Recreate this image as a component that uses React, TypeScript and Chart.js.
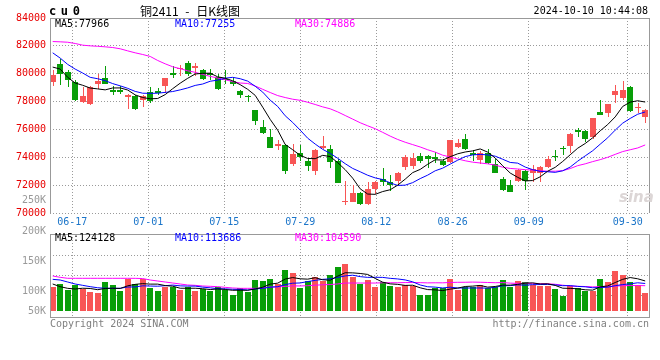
import React, { useEffect, useRef } from 'react';
import { Chart, registerables } from 'chart.js';

Chart.register(...registerables);

// ---------- data ----------
const dates = [
  '06-12','06-13','06-14','06-17','06-18','06-19','06-20','06-21','06-24','06-25','06-26','06-27','06-28',
  '07-01','07-02','07-03','07-04','07-05','07-08','07-09','07-10','07-11','07-12',
  '07-15','07-16','07-17','07-18','07-19','07-22','07-23','07-24','07-25','07-26',
  '07-29','07-30','07-31','08-01','08-02','08-05','08-06','08-07','08-08','08-09',
  '08-12','08-13','08-14','08-15','08-16','08-19','08-20','08-21','08-22','08-23',
  '08-26','08-27','08-28','08-29','08-30','09-02','09-03','09-04','09-05','09-06',
  '09-09','09-10','09-11','09-12','09-13','09-18','09-19','09-20',
  '09-23','09-24','09-25','09-26','09-27','09-30','10-08','10-09','10-10'
];

const open = [
  79380,80710,80100,79380,78000,77790,79240,79690,78810,78810,78330,78430,78100,78710,78790,79100,80020,80330,80740,80400,
  80290,80020,79740,79640,79450,78790,78430,77430,76140,75430,74810,74860,73500,74290,73710,73020,74640,74570,73740,70810,
  70810,71430,70640,71710,72430,72240,72310,73310,73380,74100,74100,74000,73760,73670,74760,75290,74290,73810,74290,73500,
  72430,72000,72310,73020,72860,72900,73330,74100,74690,74810,75950,75880,75450,77240,77190,78450,78260,79050,77520,76900
];
const high = [
  80290,81050,80240,79570,79050,79100,80000,80570,79140,79100,78570,78480,78480,79050,78980,79710,80570,80640,80880,80760,
  80330,80330,79980,80240,79760,78860,78480,77430,76670,76000,75210,74930,74930,74860,73980,74570,75520,74860,73900,72290,
  72000,71480,72240,72310,73260,72710,72950,74140,74290,74330,74140,74380,73860,75210,75290,75640,74520,74450,74570,73900,
  72550,72380,73140,73070,73430,73380,74100,74500,74810,75760,76120,75930,76790,78140,77860,79210,79500,79140,77900,77480
];
const low = [
  79100,79170,79020,78070,77900,77760,78930,79290,78450,78570,77500,77380,77600,77880,78500,78620,79670,79810,79810,79860,
  79570,79570,78860,79260,79100,78240,77950,76310,75640,74640,74520,72790,73380,73740,73020,72740,74570,73260,72140,70600,
  70760,70600,70600,71360,71950,71600,72070,73070,73140,73620,73260,73620,73380,73620,74640,74520,73740,73500,73500,72860,
  71550,71520,72190,71640,72240,72240,73260,73740,74170,74290,75480,75120,75290,77020,76900,77900,78140,77260,77190,76430
];
const close = [
  79930,79950,79520,78100,78430,79050,79450,79290,78670,78670,78500,77500,78380,78050,78620,79670,79900,80430,79980,80520,
  79600,79900,78930,79520,79260,78450,78360,76600,75710,74640,74980,73020,74210,74020,73380,74500,74810,73670,72140,70880,
  71430,70640,71710,72190,72190,72020,72860,74020,73980,73710,73900,73860,73430,75210,75050,74570,74140,74330,73570,72860,
  71640,71520,73070,72310,73140,73310,73860,74000,74570,75640,75830,75290,76790,77020,77790,78790,78860,77310,77620,77360
];

const ma5 = [
  80476,80333,79738,79333,79170,78970,78910,78840,78976,78980,78830,78480,78290,78200,78220,78500,78925,79320,79670,79980,
  80030,80040,79775,79680,79490,79214,78880,78445,77600,76720,75950,74920,74540,74140,73915,73900,74140,74050,73620,73110,
  72500,71735,71360,71340,71540,71670,72000,72430,72900,73130,73500,73820,73800,74040,74250,74380,74460,74600,74370,73950,
  73390,72870,72560,72300,72330,72600,73000,73280,73700,74180,74650,74990,75400,75900,76350,76900,77650,77960,78060,77966
];
const ma10 = [
  81500,81120,80670,80330,80050,79740,79640,79500,79290,79130,78950,78730,78600,78590,78600,78660,78720,78840,78980,79160,
  79260,79460,79540,79680,79740,79640,79470,79100,78680,78100,77650,76980,76500,75950,75370,74950,74570,74280,73930,73540,
  73200,72960,72710,72520,72400,72160,71980,72000,72180,72470,72720,73030,73220,73510,73790,74050,74170,74210,74170,74080,
  73860,73630,73580,73300,73110,72990,72960,72920,73030,73300,73720,74100,74470,74940,75400,75950,76450,76790,77090,77255
];
const ma30 = [
  82310,82290,82260,82170,82050,82000,81970,81930,81880,81790,81640,81500,81380,81240,80950,80710,80500,80360,80210,80100,
  79950,79810,79690,79570,79430,79330,79300,79120,78880,78650,78430,78290,78170,78090,77950,77790,77620,77480,77260,77000,
  76740,76480,76260,76050,75790,75520,75280,75080,74910,74740,74540,74370,74150,74020,73880,73750,73650,73590,73530,73440,
  73290,73200,73160,73110,73080,73040,73000,73000,73040,73190,73400,73530,73690,73830,74000,74210,74410,74540,74670,74886
];

const volume = [
  99120,111510,88100,107380,90860,79840,74340,119770,107380,83970,133530,111510,133530,96360,83970,100490,100490,86730,97760,83970,
  90860,82600,100490,86730,66080,93620,79840,128030,123900,132160,110150,169330,158310,96360,123900,141790,123900,148680,181720,195480,
  139060,110150,128030,99120,119770,103250,99120,107380,103250,66080,66080,93620,93620,132160,86730,100490,100490,108740,96360,100490,
  128030,100490,123900,121130,107380,104610,104610,90860,63310,103250,96360,83970,83970,132160,121130,166560,150040,121130,106020,75700
];
const volMa5 = [
  111510,100490,93620,90860,94000,93000,88000,93000,94000,93000,104000,110000,113000,111000,111000,105000,102500,94000,94000,94000,
  92000,88500,91000,89000,85500,86000,85500,91000,98000,111000,115000,132000,138000,133000,131500,137500,129000,127000,144000,158000,
  157500,155000,151000,134500,119000,112000,110000,105700,106500,95800,88400,87300,84500,90300,94400,101300,102700,105700,98600,101300,
  106800,106800,109900,114800,116200,111500,112300,105700,94200,93300,91700,87600,86200,99900,103500,117600,130800,138200,133000,124128
];
const volMa10 = [
  130790,128030,119770,111510,105980,100520,96000,94000,93500,94000,99000,99500,104000,103000,102400,104500,107000,103800,102800,102800,
  98600,95700,92400,91400,89600,88900,86900,91000,93600,98400,100400,109000,114800,115800,121600,126400,130800,132800,138600,145000,
  147900,141900,138900,139200,138800,134900,132400,128300,120500,107500,100200,98600,95100,98400,95100,94900,95000,95100,94400,97900,
  104100,104800,107800,106700,108800,109200,109600,107800,104500,104800,101600,99900,95900,97000,98400,104600,109200,112200,116500,113686
];
const volMa30 = [
  144550,139060,135000,135000,135000,135000,135000,135000,135000,135000,135000,134900,134000,128000,123900,119800,115600,111500,107400,106000,
  103300,101900,100500,97700,95000,93600,93600,93600,95000,99200,99500,101500,103800,103400,104500,106600,108300,109200,111700,115400,
  115600,115500,115400,115500,116600,116700,116700,117400,117600,117000,116100,116500,116300,117800,118500,118700,119400,118800,117800,116800,
  117400,115100,113900,114800,114200,113000,112300,110400,106500,103400,102000,101100,99600,100700,100800,102900,104600,105000,105100,104590
];

const priceTicks = [84000, 82000, 80000, 78000, 76000, 74000, 72000, 70000];
const gridDates = ['06-17', '07-01', '07-15', '07-29', '08-12', '08-26', '09-09', '09-30'];
const gridPos = [2.61, 12.75, 22.88, 33.01, 43.15, 53.33, 63.47, 76.67];
const volGridVals = [63190, 145790, 228390];
const volLabels = ['200K', '150K', '100K', '50K'];

// ---------- styles ----------
const MONO = '"DejaVu Sans Mono", "Liberation Mono", monospace';
const UP = '#f85555';
const DOWN = '#089e08';
const GRID = '#9a9a9a';
const FRAME = '#999999';

const X_MIN = -0.36;
const X_MAX = dates.length - 0.36;

function xScale(showLabels: boolean): any {
  return {
    type: 'linear',
    min: X_MIN,
    max: X_MAX,
    offset: false,
    bounds: 'data',
    afterBuildTicks: (s: any) => {
      s.ticks = gridPos.map((v) => ({ value: v }));
    },
    grid: { color: GRID, lineWidth: 1, drawTicks: false, offset: false },
    border: { display: false, dash: [1, 2] },
    ticks: {
      display: showLabels,
      autoSkip: false,
      maxRotation: 0,
      minRotation: 0,
      padding: 3,
      color: '#1b75c9',
      font: { family: MONO, size: 10 },
      callback: (_v: any, i: number) => gridDates[i],
    },
    afterFit: (s: any) => {
      s.height = showLabels ? 17 : 0;
    },
  };
}

function framePlugin(sides: { top: boolean; bottom: boolean }) {
  return {
    id: 'frame',
    afterDraw(chart: any) {
      const { ctx, chartArea: a } = chart;
      const l = Math.round(a.left) + 0.5;
      const r = Math.round(a.right) - 0.5;
      const t = Math.round(a.top) + 0.5;
      const b = Math.round(a.bottom) - 0.5;
      ctx.save();
      ctx.strokeStyle = FRAME;
      ctx.lineWidth = 1;
      ctx.beginPath();
      ctx.moveTo(l, a.top);
      ctx.lineTo(l, a.bottom);
      ctx.moveTo(r, a.top);
      ctx.lineTo(r, a.bottom);
      if (sides.top) {
        ctx.moveTo(a.left, t);
        ctx.lineTo(a.right, t);
      }
      if (sides.bottom) {
        ctx.moveTo(a.left, b);
        ctx.lineTo(a.right, b);
      }
      ctx.stroke();
      ctx.restore();
    },
  };
}

// snap bar elements (already positioned by the scales) to whole pixels for crisp edges
const snapPlugin = {
  id: 'snap',
  beforeDatasetsDraw(chart: any) {
    chart.getSortedVisibleDatasetMetas().forEach((meta: any) => {
      if (meta.type !== 'bar') return;
      const thin = (chart.data.datasets[meta.index] as any).barThickness === 1;
      meta.data.forEach((el: any) => {
        const cx = Math.round(el.x);
        el.x = thin ? cx + 0.5 : cx;
        const y = Math.round(el.y);
        let base = Math.round(el.base);
        if (Math.abs(base - y) < 1) base = y + 1;
        el.y = y;
        el.base = base;
      });
    });
  },
};

const txt = (extra: React.CSSProperties): React.CSSProperties => ({
  position: 'absolute',
  fontFamily: MONO,
  fontSize: 10,
  lineHeight: '10px',
  whiteSpace: 'pre',
  ...extra,
});

export default function App() {
  const priceRef = useRef<HTMLCanvasElement>(null);
  const volRef = useRef<HTMLCanvasElement>(null);

  useEffect(() => {
    const colors = dates.map((_, i) => (close[i] >= open[i] ? UP : DOWN));
    const line = (label: string, arr: number[], color: string) => ({
      type: 'line' as const,
      label,
      data: arr.map((v, i) => ({ x: i, y: v })),
      borderColor: color,
      borderWidth: 1,
      pointRadius: 0,
      tension: 0,
      fill: false,
      order: 0,
    });

    const price = new Chart(priceRef.current as HTMLCanvasElement, {
      type: 'bar',
      data: {
        datasets: [
          line('MA5', ma5, '#000000'),
          line('MA10', ma10, '#0000ff'),
          line('MA30', ma30, '#ff00ff'),
          {
            type: 'bar',
            label: 'body',
            data: dates.map((_, i) => ({ x: i, y: [open[i], close[i]] })) as any,
            backgroundColor: colors,
            barThickness: 6,
            grouped: false,
            minBarLength: 1,
            inflateAmount: 0,
            order: 1,
          } as any,
          {
            type: 'bar',
            label: 'wick',
            data: dates.map((_, i) => ({ x: i, y: [low[i], high[i]] })) as any,
            backgroundColor: colors,
            barThickness: 1,
            grouped: false,
            inflateAmount: 0,
            order: 2,
          } as any,
        ],
      },
      options: {
        animation: false,
        responsive: false,
        events: [],
        layout: { padding: { top: 18, right: 10, bottom: 0, left: 0 } },
        plugins: { legend: { display: false }, tooltip: { enabled: false } },
        scales: {
          x: xScale(true),
          y: {
            type: 'linear',
            min: 70000,
            max: 84000,
            bounds: 'data',
            afterBuildTicks: (s: any) => {
              s.ticks = priceTicks.map((v) => ({ value: v }));
            },
            grid: { color: GRID, lineWidth: 1, drawTicks: false },
            border: { display: false, dash: [1, 2] },
            ticks: {
              autoSkip: false,
              padding: 4,
              color: '#e80000',
              font: { family: MONO, size: 10 },
              callback: (v: any) => String(v),
            },
            afterFit: (s: any) => {
              s.width = 50;
            },
          } as any,
        },
      } as any,
      plugins: [snapPlugin, framePlugin({ top: true, bottom: false })],
    });

    const vol = new Chart(volRef.current as HTMLCanvasElement, {
      type: 'bar',
      data: {
        datasets: [
          line('VMA5', volMa5, '#000000'),
          line('VMA10', volMa10, '#0000ff'),
          line('VMA30', volMa30, '#ff00ff'),
          {
            type: 'bar',
            label: 'volume',
            data: volume.map((v, i) => ({ x: i, y: v })) as any,
            backgroundColor: colors,
            barThickness: 6,
            grouped: false,
            inflateAmount: 0,
            order: 1,
          } as any,
        ],
      },
      options: {
        animation: false,
        responsive: false,
        events: [],
        layout: { padding: { top: 4, right: 10, bottom: 7, left: 0 } },
        plugins: { legend: { display: false }, tooltip: { enabled: false } },
        scales: {
          x: xScale(false),
          y: {
            type: 'linear',
            min: -28910,
            max: 318010,
            bounds: 'data',
            afterBuildTicks: (s: any) => {
              s.ticks = volGridVals.map((v) => ({ value: v }));
            },
            grid: { color: GRID, lineWidth: 1, drawTicks: false },
            border: { display: false, dash: [1, 2] },
            ticks: { display: false },
            afterFit: (s: any) => {
              s.width = 50;
            },
          } as any,
        },
      } as any,
      plugins: [snapPlugin, framePlugin({ top: true, bottom: true })],
    });

    return () => {
      price.destroy();
      vol.destroy();
    };
  }, []);

  const volLabelCenters = [230.5, 261, 290.5, 311];

  return (
    <div
      style={{
        position: 'absolute',
        left: 0,
        top: 0,
        width: 660,
        height: 360,
        background: '#ffffff',
        overflow: 'hidden',
      }}
    >
      <canvas ref={priceRef} width={660} height={230} style={{ position: 'absolute', left: 0, top: 0 }} />
      <canvas ref={volRef} width={660} height={95} style={{ position: 'absolute', left: 0, top: 230 }} />

      {/* header */}
      <div style={txt({ left: 49, top: 5, fontSize: 12, lineHeight: '12px', fontWeight: 'bold', letterSpacing: '4.6px' })}>cu0</div>
      <div
        style={txt({
          left: 140,
          top: 5,
          fontSize: 12,
          lineHeight: '12px',
          fontFamily: '"Noto Sans CJK SC", "Noto Sans", sans-serif',
          wordSpacing: '4px',
          color: '#000',
        })}
      >
        铜2411 - 日K线图
      </div>
      <div style={txt({ right: 12, top: 6, color: '#000' })}>2024-10-10 10:44:08</div>

      {/* price legend */}
      <div style={txt({ left: 55, top: 18.5, color: '#000' })}>MA5:77966</div>
      <div style={txt({ left: 175, top: 18.5, color: '#0000ff' })}>MA10:77255</div>
      <div style={txt({ left: 295, top: 18.5, color: '#ff00ff' })}>MA30:74886</div>

      {/* stray axis label */}
      <div style={txt({ right: 614, top: 195, color: '#999' })}>250K</div>

      {/* sina mark */}
      <div
        style={txt({
          left: 619,
          top: 190,
          fontSize: 15,
          lineHeight: '15px',
          fontFamily: '"DejaVu Sans", sans-serif',
          fontStyle: 'italic',
          fontWeight: 'bold',
          color: '#dcd6d6',
        })}
      >
        sina
      </div>

      {/* volume labels */}
      {volLabels.map((l, i) => (
        <div key={l} style={txt({ right: 614, top: volLabelCenters[i] - 5, color: '#999' })}>
          {l}
        </div>
      ))}
      <div style={txt({ left: 55, top: 233, color: '#000' })}>MA5:124128</div>
      <div style={txt({ left: 175, top: 233, color: '#0000ff' })}>MA10:113686</div>
      <div style={txt({ left: 295, top: 233, color: '#ff00ff' })}>MA30:104590</div>

      {/* footer */}
      <div style={txt({ left: 50, top: 318.5, color: '#808080' })}>Copyright 2024 SINA.COM</div>
      <div style={txt({ right: 11, top: 319, color: '#808080' })}>http://finance.sina.com.cn</div>
    </div>
  );
}
